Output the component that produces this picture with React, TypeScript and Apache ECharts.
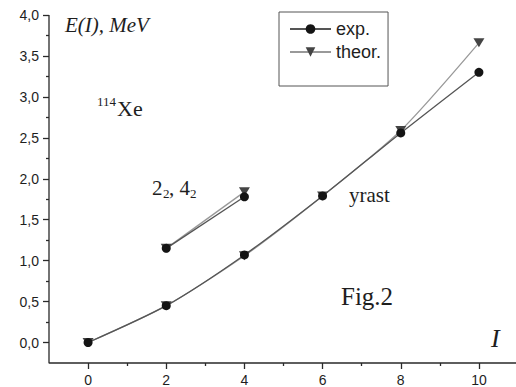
import React, { useEffect, useRef } from "react";
import * as echarts from "echarts";

// Spin I and level energy E(I) in MeV for 114Xe
const SPIN_YRAST = [0, 2, 4, 6, 8, 10];
const YRAST_EXP = [0, 0.45, 1.07, 1.79, 2.56, 3.3];
const YRAST_THEOR = [0, 0.45, 1.06, 1.79, 2.59, 3.66];

// Second 2+ and 4+ states
const SPIN_GAMMA = [2, 4];
const GAMMA_EXP = [1.15, 1.78];
const GAMMA_THEOR = [1.15, 1.84];

// Axis ranges and ticks
const X_RANGE = [-1, 11];
const Y_RANGE = [-0.25, 4];
const X_MAJOR = [0, 2, 4, 6, 8, 10];
const X_MINOR = [1, 3, 5, 7, 9];
const Y_MAJOR = [0, 0.5, 1, 1.5, 2, 2.5, 3, 3.5, 4];
const Y_MINOR = [0.25, 0.75, 1.25, 1.75, 2.25, 2.75, 3.25, 3.75];

const LEGEND_NAMES = ["exp.", "theor."];

const pairs = (xs: number[], ys: number[]) => xs.map((x, i) => [x, ys[i]]);

// Page and plot frame in pixels
const W = 516;
const H = 387;
const PLOT = { left: 49, top: 15, right: 518, bottom: 363 };
const LABEL_GAP = 10;

// The grid fills the whole page; the axis ranges are widened so that
// X_RANGE / Y_RANGE land exactly on the plot frame above.
const xPerUnit = (PLOT.right - PLOT.left) / (X_RANGE[1] - X_RANGE[0]);
const yPerUnit = (PLOT.bottom - PLOT.top) / (Y_RANGE[1] - Y_RANGE[0]);
const X_EXT = [X_RANGE[0] - PLOT.left / xPerUnit, X_RANGE[1] + (W - PLOT.right) / xPerUnit];
const Y_EXT = [Y_RANGE[0] - (H - PLOT.bottom) / yPerUnit, Y_RANGE[1] + PLOT.top / yPerUnit];

const AXIS_COLOR = "#2a2a2a";
const TEXT_COLOR = "#1e1e1e";
const SERIF = "'Liberation Serif', 'Times New Roman', serif";
const SANS = "'Liberation Sans', Arial, sans-serif";

const expStyle = {
  symbol: "circle",
  symbolSize: 9,
  itemStyle: { color: "#141414" },
  lineStyle: { color: "#555555", width: 1.3 },
};

const theorStyle = {
  symbol: "triangle",
  symbolRotate: 180,
  symbolSize: [11, 9],
  itemStyle: { color: "#444444" },
  lineStyle: { color: "#999999", width: 1.3 },
};

const tickStyle = { color: AXIS_COLOR, width: 1.3 };

// Value axis carrying ticks (and optionally labels) at the given values,
// placed on the zero of helper axis #1 of the other direction
const tickAxis = (
  range: number[],
  ticks: number[],
  length: number,
  label: object | null,
  position: string
) => ({
  type: "value",
  min: range[0],
  max: range[1],
  position,
  splitLine: { show: false },
  axisLine: { show: false, onZero: true, onZeroAxisIndex: 1 },
  axisTick: { show: true, customValues: ticks, length, lineStyle: tickStyle },
  axisLabel: label ? { customValues: ticks, ...label } : { show: false },
});

// Hidden pixel-scaled helper axes whose zero sits on the frame's left / bottom edge
const xAnchor = { type: "value", min: -PLOT.left, max: W - PLOT.left, show: false };
const yAnchor = { type: "value", min: -(H - PLOT.bottom), max: PLOT.bottom, show: false };

export default function App() {
  const ref = useRef<HTMLDivElement>(null);

  useEffect(() => {
    if (!ref.current) return;
    const chart = echarts.init(ref.current, null, { renderer: "svg" });

    const labelFont = { fontFamily: SANS, fontSize: 14, color: TEXT_COLOR };

    const serifText = (left: number, top: number, text: string, font: string) => ({
      type: "text",
      left,
      top,
      style: { text, font, fill: TEXT_COLOR },
    });

    chart.setOption({
      animation: false,
      backgroundColor: "#ffffff",
      grid: { left: 0, top: 0, right: 0, bottom: 0, outerBoundsMode: "none" },
      legend: {
        data: LEGEND_NAMES,
        orient: "vertical",
        left: 279,
        top: 12,
        itemWidth: 41,
        itemHeight: 12,
        itemGap: 5,
        padding: [8, 7, 25, 10],
        borderColor: "#555555",
        borderWidth: 1,
        textStyle: { fontFamily: SANS, fontSize: 18, color: TEXT_COLOR },
      },
      xAxis: [
        tickAxis(
          X_EXT,
          X_MAJOR,
          6,
          // labels are laid out from the page edge, so pull them up to the frame
          { margin: -(H - PLOT.bottom - LABEL_GAP), ...labelFont },
          "bottom"
        ),
        xAnchor,
        tickAxis(X_EXT, X_MINOR, 3, null, "bottom"),
      ],
      yAxis: [
        tickAxis(
          Y_EXT,
          Y_MAJOR,
          6,
          {
            margin: -(PLOT.left - LABEL_GAP),
            formatter: (v: number) => v.toFixed(1).replace(".", ","),
            ...labelFont,
          },
          "left"
        ),
        yAnchor,
        tickAxis(Y_EXT, Y_MINOR, 3, null, "left"),
      ],
      series: [
        {
          // left and bottom axis lines of the frame
          name: "frame",
          type: "line",
          silent: true,
          clip: false,
          symbol: "none",
          z: 1,
          lineStyle: { color: AXIS_COLOR, width: 1.3 },
          emphasis: { disabled: true },
          data: [
            [X_RANGE[0], Y_RANGE[1]],
            [X_RANGE[0], Y_RANGE[0]],
            [X_RANGE[1], Y_RANGE[0]],
          ],
        },
        {
          name: "theor.",
          type: "line",
          smooth: 0.25,
          data: pairs(SPIN_YRAST, YRAST_THEOR),
          ...theorStyle,
        },
        {
          name: "exp.",
          type: "line",
          smooth: 0.25,
          data: pairs(SPIN_YRAST, YRAST_EXP),
          ...expStyle,
        },
        {
          name: "theor.",
          type: "line",
          data: pairs(SPIN_GAMMA, GAMMA_THEOR),
          ...theorStyle,
        },
        {
          name: "exp.",
          type: "line",
          data: pairs(SPIN_GAMMA, GAMMA_EXP),
          ...expStyle,
        },
      ],
      graphic: [
        serifText(65, 14, "E(I), MeV", `italic 21px ${SERIF}`),
        // 114Xe with superscript mass number
        serifText(97, 95, "114", `13px ${SERIF}`),
        serifText(117, 97, "Xe", `22px ${SERIF}`),
        // 2₂, 4₂ labels
        serifText(152, 177, "2", `21px ${SERIF}`),
        serifText(163, 187, "2", `13px ${SERIF}`),
        serifText(169, 177, ", 4", `21px ${SERIF}`),
        serifText(190, 187, "2", `13px ${SERIF}`),
        serifText(349, 184, "yrast", `21px ${SERIF}`),
        serifText(341, 284, "Fig.2", `25px ${SERIF}`),
        serifText(491, 325, "I", `italic 26px ${SERIF}`),
      ],
    });

    return () => chart.dispose();
  }, []);

  return (
    <div
      ref={ref}
      style={{ position: "fixed", left: 0, top: 0, width: W, height: H, background: "#fff" }}
    />
  );
}
